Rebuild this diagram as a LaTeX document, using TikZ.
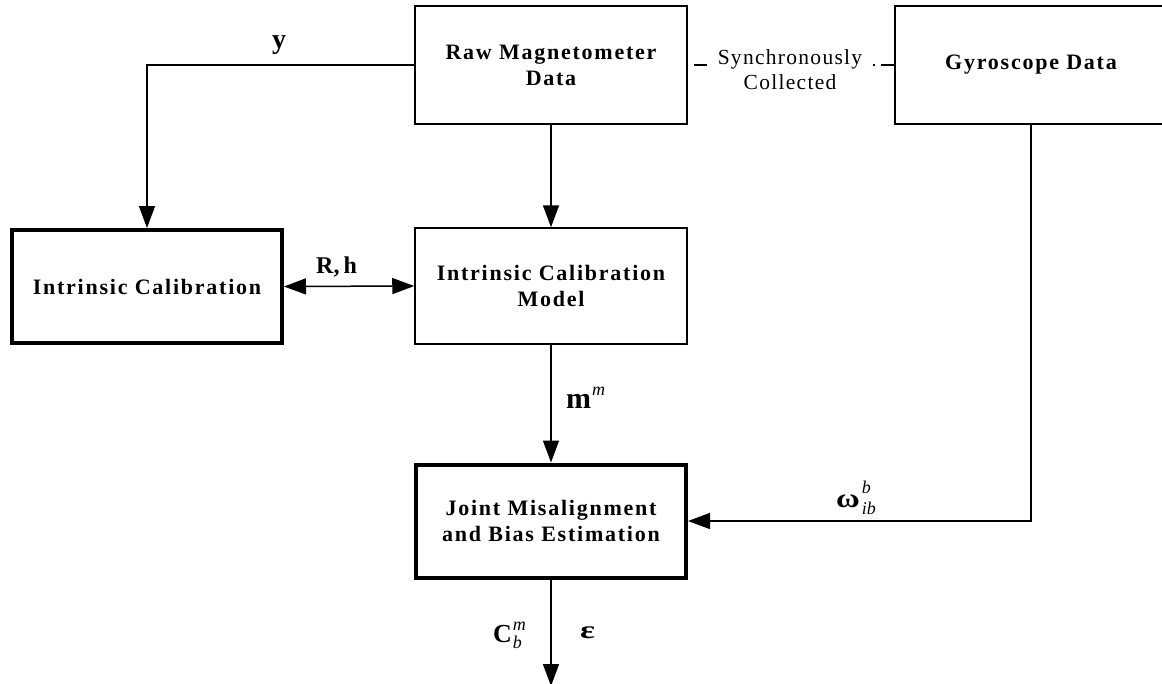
\documentclass[tikz,border=0pt]{standalone}
\usepackage{fontspec}
\usepackage{graphicx}
\setmainfont{Liberation Serif}
\usetikzlibrary{arrows.meta}
% #1 sup, #2 sub, #3 size, #4 raise, #5 lower
\newcommand{\supsubx}[5]{\makebox[0pt][l]{\raisebox{#4}{\normalfont\fontsize{#3}{#3}\selectfont\itshape #1}}\raisebox{-#5}{\normalfont\fontsize{#3}{#3}\selectfont\itshape #2}}
\newcommand{\supx}[3]{\raisebox{#3}{\normalfont\fontsize{#2}{#2}\selectfont\itshape #1}}
\tikzset{
  box/.style={draw, line width=1.5pt, rectangle, minimum width=272pt, minimum height=118pt, align=center, inner sep=0pt,
    font=\fontsize{22}{26}\selectfont\bfseries\addfontfeature{LetterSpace=8}},
  thickbox/.style={box, line width=4pt, minimum width=270pt, minimum height=113pt},
  arr/.style={line width=1.5pt, -{Triangle[length=22pt,width=16pt]}},
  darr/.style={line width=1.5pt, {Triangle[length=22pt,width=16pt]}-{Triangle[length=22pt,width=16pt]}},
  lbl/.style={inner sep=0pt, anchor=base west},
  synch/.style={line width=1.5pt, dash pattern=on 13pt off 6pt on 1.7pt off 6pt, dash phase=20.7pt},
  note/.style={font=\fontsize{21.5}{25}\selectfont\addfontfeature{LetterSpace=6}, align=center, fill=white, inner xsep=6pt, inner ysep=1pt}
}
\begin{document}
\begin{tikzpicture}[x=1pt,y=-1pt]
\useasboundingbox (0,0) rectangle (1162,683);
\node[box] (raw) at (551,65) {Raw Magnetometer\\Data};
\node[box] (gyro) at (1031,65) {Gyroscope Data};
\node[thickbox] (ical) at (147,286.5) {Intrinsic Calibration};
\node[box, minimum height=116pt] (model) at (551,286) {Intrinsic Calibration\\Model};
\node[thickbox] (joint) at (551,521) {Joint Misalignment\\and Bias Estimation};
\coordinate (out) at (551,686);

\draw[synch] (raw.east) -- (gyro.west);
\node[note] (sync) at (790,70) {Synchronously\\Collected};

\draw[arr] (raw.west) -| (ical.north);
\node[lbl, font=\fontsize{28}{30}\selectfont\bfseries] (ylab) at (272,48) {y};
\draw[arr] (raw.south) -- (model.north);
\draw[darr] (ical.east) -- (model.west);
\node[lbl, font=\fontsize{24}{26}\selectfont\bfseries] (rh) at (316,273) {R,\hspace{4pt}h};
\draw[arr] (model.south) -- (joint.north);
\node[lbl, font=\fontsize{30}{32}\selectfont\bfseries] (mm) at (566,408) {m\hspace{1pt}\supx{m}{18}{13pt}};
\draw[arr] (gyro.south) |- (joint.east);
\node[lbl, font=\fontsize{27}{30}\selectfont\bfseries] (om) at (836,507) {\scalebox{1.2}[1]{ω}\hspace{2pt}\supsubx{b}{ib}{18}{14pt}{7pt}};
\draw[arr] (joint.south) -- (out);
\node[lbl, font=\fontsize{26}{28}\selectfont\bfseries] (cb) at (493,642) {C\hspace{1pt}\supsubx{m}{b}{18}{12pt}{6pt}};
\node[lbl, font=\fontsize{25}{28}\selectfont\bfseries] (eps) at (580,638) {\scalebox{1.4}[1]{ε}};
\end{tikzpicture}
\end{document}
